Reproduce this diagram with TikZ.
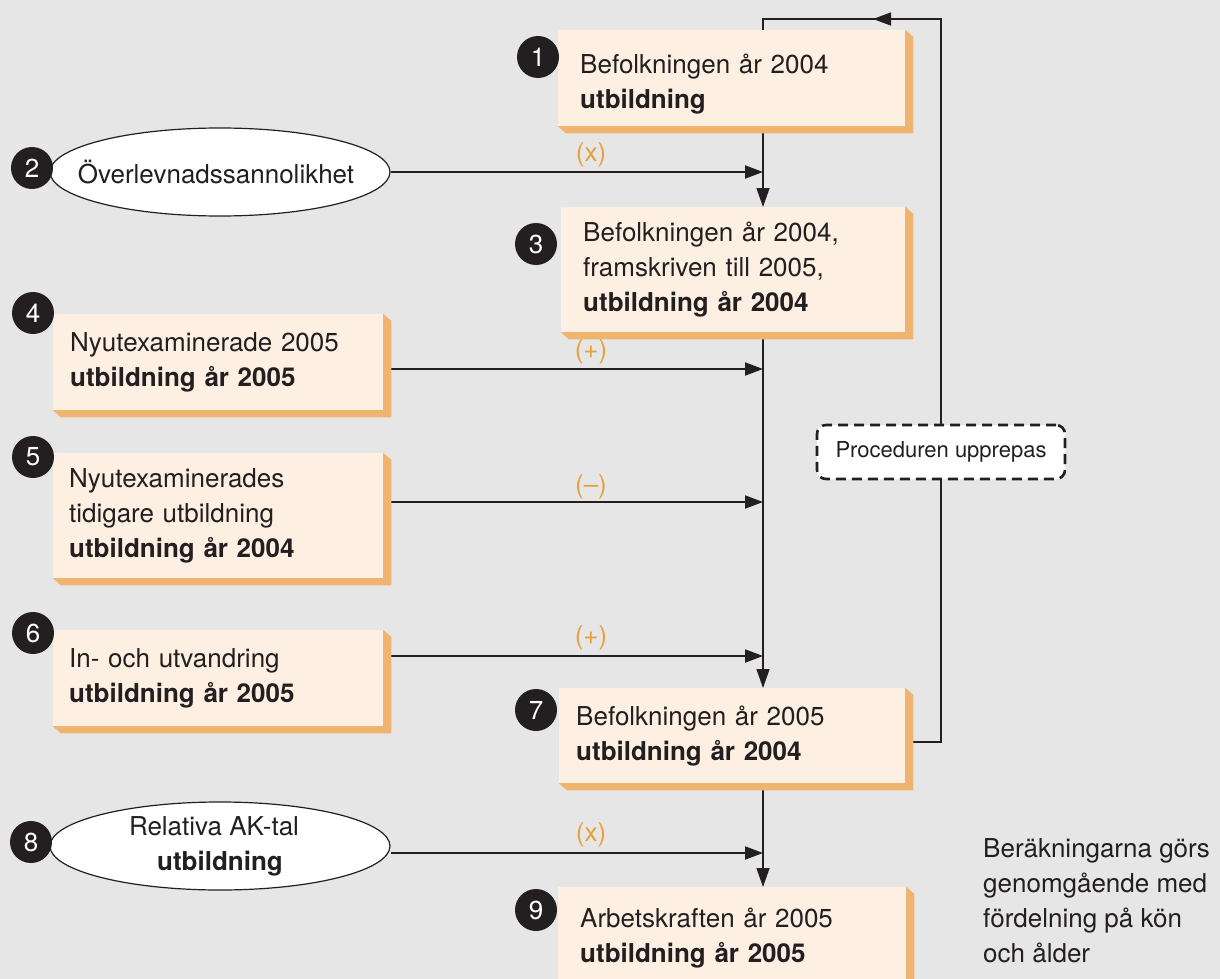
\documentclass[tikz,border=0pt]{standalone}
\usepackage{fontspec}
\setmainfont{TeX Gyre Heros}
\usetikzlibrary{arrows.meta,shapes.geometric}
\definecolor{bgc}{HTML}{E6E6E6}
\definecolor{facec}{HTML}{FDF0E3}
\definecolor{shadc}{HTML}{EFB46F}
\definecolor{ink}{HTML}{231F20}
\definecolor{lblc}{HTML}{E8A03A}
\pgfdeclarelayer{bg}
\pgfdeclarelayer{lines}
\pgfdeclarelayer{shd}
\pgfsetlayers{bg,lines,shd,main}
\newcommand\boxshadow[1]{%
  \begin{pgfonlayer}{shd}
    \fill[shadc] (#1.north east) -- ([shift={(8,7)}]#1.north east) -- ([shift={(8,7)}]#1.south east) -- ([shift={(8,7)}]#1.south west) -- (#1.south west) -- cycle;
  \end{pgfonlayer}}
\tikzset{
  pbox/.style={rectangle, fill=facec, anchor=north west, align=left, inner ysep=0pt, text=ink},
  oval/.style={ellipse, draw=ink, line width=1.2pt, fill=white, minimum width=340pt, minimum height=88pt, inner sep=0pt, align=center, text=ink},
  num/.style={circle, fill=ink, text=white, minimum size=42pt, inner sep=0pt},
  lbl/.style={text=lblc, inner sep=0pt},
  conn/.style={draw=ink, line width=1.3pt},
  harr/.style={draw=ink, line width=2pt, -{Triangle[length=18pt,width=13pt]}},
  varr/.style={draw=ink, line width=1.3pt, -{Triangle[length=19pt,width=13pt]}},
  procbox/.style={rectangle, rounded corners=9pt, draw=ink, fill=white, line width=2.6pt, dash pattern=on 10pt off 6pt, minimum width=248pt, minimum height=54pt, inner sep=0pt, font=\fontsize{22}{26}\selectfont, text=ink}
}
\begin{document}
\begin{tikzpicture}[x=1pt, y=-1pt, font=\fontsize{26}{35}\selectfont]
\useasboundingbox (0,0) rectangle (1220,979);
\clip (0,0) rectangle (1220,979);
\begin{pgfonlayer}{bg}
  \fill[bgc] (0,0) rectangle (1220,979);
\end{pgfonlayer}
\coordinate (v) at (763,0);

% boxes
\node[pbox, inner xsep=22pt, text width=303pt, minimum height=96pt] (b1) at (558,30) {\rule{0pt}{31pt}Befolkningen år 2004\\\textbf{utbildning}};
\node[pbox, inner xsep=22pt, text width=300pt, minimum height=125pt] (b3) at (561,207) {Befolkningen år 2004,\\framskriven till 2005,\\\textbf{utbildning år 2004}};
\node[pbox, inner xsep=17pt, text width=296pt, minimum height=96pt] (b4) at (53,314) {Nyutexaminerade 2005\\\textbf{utbildning år 2005}};
\node[pbox, inner xsep=16pt, text width=298pt, minimum height=125pt] (b5) at (53,453) {Nyutexaminerades\\tidigare utbildning\\\textbf{utbildning år 2004}};
\node[pbox, inner xsep=16pt, text width=298pt, minimum height=96pt] (b6) at (53,630) {In- och utvandring\\\textbf{utbildning år 2005}};
\node[pbox, inner xsep=17pt, text width=312pt, minimum height=95pt] (b7) at (559,688) {Befolkningen år 2005\\\textbf{utbildning år 2004}};
\node[pbox, inner xsep=22pt, text width=304pt, minimum height=101pt] (b9) at (558,887) {Arbetskraften år 2005\\\textbf{utbildning år 2005}};
\boxshadow{b1}\boxshadow{b3}\boxshadow{b4}\boxshadow{b5}\boxshadow{b6}\boxshadow{b7}\boxshadow{b9}

% ellipses
\node[oval] (e2) at (220,172) {\makebox[0pt]{\hspace*{-8pt}Överlevnadssannolikhet}};
\node[oval] (e8) at (220,846) {\hspace*{-12pt}Relativa AK-tal\\\textbf{utbildning}};

% repeat box
\node[procbox] (proc) at (941,452) {Proceduren upprepas};

% numbers
\node[num] (c1) at (538,57) {1};
\node[num] (c2) at (32,168) {2};
\node[num] (c3) at (536,244) {3};
\node[num] (c4) at (33,313) {4};
\node[num] (c5) at (33,457) {5};
\node[num] (c6) at (33,633) {6};
\node[num] (c7) at (536,710) {7};
\node[num] (c8) at (31,842) {8};
\node[num] (c9) at (536,910) {9};

% labels
\node[lbl] (l2) at (591,155) {(x)};
\node[lbl] (l4) at (591,352) {(+)};
\node[lbl] (l5) at (591,487) {(–)};
\node[lbl] (l6) at (591,638) {(+)};
\node[lbl] (l8) at (591,835) {(x)};

% note
\node[anchor=north west, align=left, inner sep=0pt, text=ink] (note) at (983,838) {Beräkningarna görs\\genomgående med\\fördelning på kön\\och ålder};

\begin{pgfonlayer}{lines}
  \draw[varr] (b1.south -| v) -- (b3.north -| v);
  \draw[varr] (b3.south -| v) -- (b7.north -| v);
  \draw[varr] (b7.south -| v) -- (b9.north -| v);
  \draw[harr] (e2.east) -- (e2.east -| v);
  \draw[harr] (b4.east |- 0,369) -- (v |- 0,369);
  \draw[harr] (b5.east |- 0,502) -- (v |- 0,502);
  \draw[harr] (b6.east |- 0,656) -- (v |- 0,656);
  \draw[harr] (e8.east |- 0,853) -- (v |- 0,853);
  \draw[conn] (b7.east |- 0,742) -- (proc.south |- 0,742) -- (proc.south);
  \draw[conn] (proc.north) -- (proc.north |- 0,19) -- (v |- 0,19) -- (b1.north -| v);
  \draw[harr, line width=1.3pt] (proc.north |- 0,19) -- (873,19);
\end{pgfonlayer}
\end{tikzpicture}
\end{document}
